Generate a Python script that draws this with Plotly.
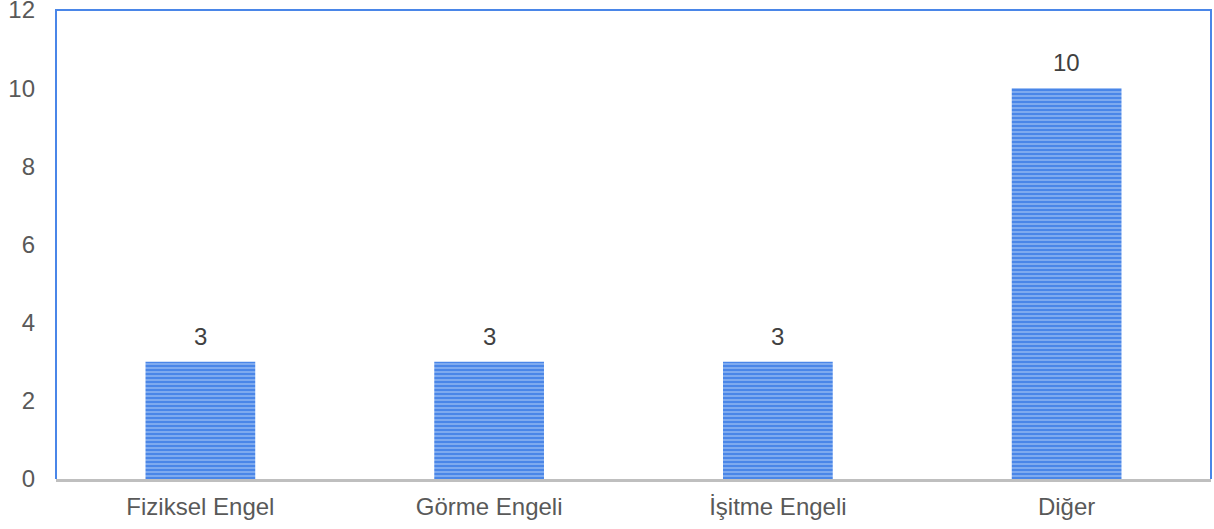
import plotly.graph_objects as go

categories = ["Fiziksel Engel", "Görme Engeli", "İşitme Engeli", "Diğer"]
values = [3, 3, 3, 10]
y_ticks = [0, 2, 4, 6, 8, 10, 12]

FONT = "Liberation Sans, Arial, sans-serif"
BLUE = "#4a86e8"

fig = go.Figure(
    go.Bar(
        x=categories,
        y=values,
        width=0.38,
        marker=dict(
            color=BLUE,
            line=dict(width=0),
            pattern=dict(shape="-", fgcolor="#bcd5fa", bgcolor=BLUE,
                         size=4, solidity=0.45),
        ),
    )
)

# value labels above each bar
for cat, v in zip(categories, values):
    fig.add_annotation(
        x=cat, y=v, text=str(v), showarrow=False,
        yanchor="bottom", yshift=10,
        font=dict(family=FONT, size=24, color="#404040"),
    )

fig.update_layout(
    width=1214,
    height=529,
    margin=dict(l=56, r=3, t=10, b=50),
    plot_bgcolor="white",
    paper_bgcolor="white",
    showlegend=False,
    font=dict(family=FONT, size=24, color="#595959"),
    xaxis=dict(
        showgrid=False,
        showline=True,
        linecolor="#bfbfbf",
        linewidth=3,
        ticks="",
        automargin=False,
        ticklabelstandoff=4,
        tickfont=dict(size=24, color="#595959"),
    ),
    yaxis=dict(
        range=[0, 12],
        tickvals=y_ticks,
        showgrid=False,
        zeroline=False,
        showline=False,
        ticks="",
        automargin=False,
        ticklabelstandoff=20,
        ticklabeloverflow="allow",
        tickfont=dict(size=24, color="#595959"),
    ),
    shapes=[
        dict(type="path", xref="paper", yref="paper",
             path="M 0 0 L 0 1 L 1 1 L 1 0",
             line=dict(color=BLUE, width=2), layer="below"),
    ],
)

fig.write_html("out.html")
